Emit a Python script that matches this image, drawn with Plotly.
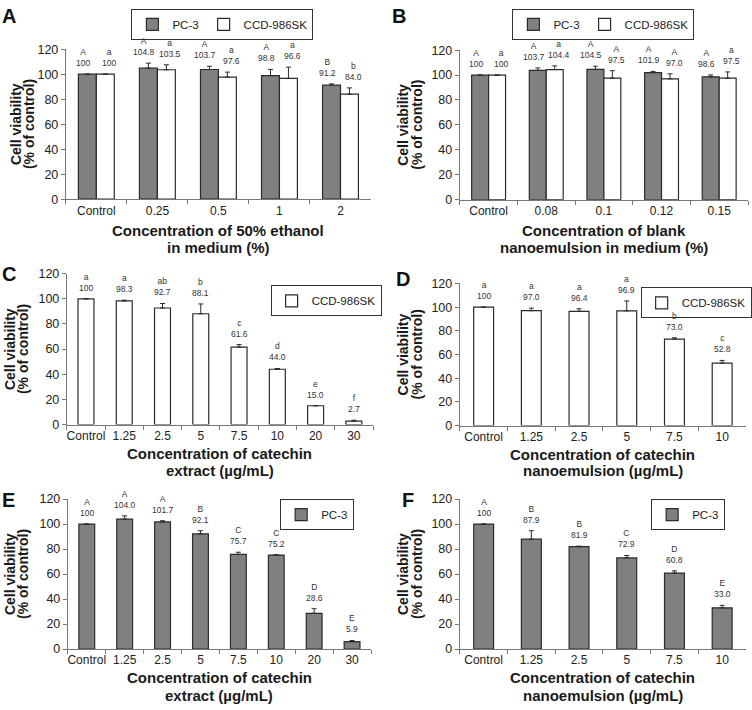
import plotly.graph_objects as go

# ---------------- data ----------------
A_cats = ["Control", "0.25", "0.5", "1", "2"]
A_pc3 = [100, 104.8, 103.7, 98.8, 91.2]
A_pc3_err = [0, 4, 2.6, 5, 1]
A_pc3_sig = ["A", "A", "A", "A", "B"]
A_ccd = [100, 103.5, 97.6, 96.6, 84.0]
A_ccd_err = [0, 4, 4, 9, 5]
A_ccd_sig = ["a", "a", "a", "a", "b"]

B_cats = ["Control", "0.08", "0.1", "0.12", "0.15"]
B_pc3 = [100, 103.7, 104.5, 101.9, 98.6]
B_pc3_err = [0, 2, 2.6, 1, 1.5]
B_pc3_sig = ["A", "A", "A", "A", "A"]
B_ccd = [100, 104.4, 97.5, 97.0, 97.5]
B_ccd_err = [0, 3, 6, 4, 5]
B_ccd_sig = ["a", "a", "A", "A", "a"]

C_cats = ["Control", "1.25", "2.5", "5", "7.5", "10", "20", "30"]
C_ccd = [100, 98.3, 92.7, 88.1, 61.6, 44.0, 15.0, 2.7]
C_ccd_err = [0, 0.6, 3.6, 7.8, 2, 0.6, 0, 0.8]
C_ccd_sig = ["a", "a", "ab", "b", "c", "d", "e", "f"]

D_cats = ["Control", "1.25", "2.5", "5", "7.5", "10"]
D_ccd = [100, 97.0, 96.4, 96.9, 73.0, 52.8]
D_ccd_err = [0, 2.2, 2.2, 8.3, 1.1, 2.2]
D_ccd_sig = ["a", "a", "a", "a", "b", "c"]

E_cats = ["Control", "1.25", "2.5", "5", "7.5", "10", "20", "30"]
E_pc3 = [100, 104.0, 101.7, 92.1, 75.7, 75.2, 28.6, 5.9]
E_pc3_err = [0, 2.6, 1, 2.6, 1.8, 0.3, 3.7, 1]
E_pc3_sig = ["A", "A", "A", "B", "C", "C", "D", "E"]

F_cats = ["Control", "1.25", "2.5", "5", "7.5", "10"]
F_pc3 = [100, 87.9, 81.9, 72.9, 60.8, 33.0]
F_pc3_err = [0, 6.8, 0.5, 2, 1.8, 2]
F_pc3_sig = ["A", "B", "B", "C", "D", "E"]

y_ticks = [0, 20, 40, 60, 80, 100, 120]

# ---------------- styling ----------------
W, H = 752, 710
FONT = "Liberation Sans, Arial, Helvetica, sans-serif"
GRAY = "#808080"
EDGE = "#2b2b2b"
AXC = "#777777"


def fx(px):
    return px / W


def fy(px):
    return 1 - px / H


def fmt(v):
    return "100" if v == 100 else f"{v:.1f}"


# panel boxes in pixels: x0, x1, ytop(120), ybottom(0)
panels = {
    "A": dict(box=(66, 372, 43, 196), xt=("Concentration of 50% ethanol", "in medium (%)"), ty=(228, 245),
              lab=(9, 9), yt=(-50, -37)),
    "B": dict(box=(461, 750, 44, 196.5), xt=("Concentration of blank", "nanoemulsion in medium (%)"), ty=(228, 245),
              lab=(400, 9), yt=(-57, -43)),
    "C": dict(box=(67, 374, 272, 426), xt=("Concentration of catechin", "extract (µg/mL)"), ty=(455, 473),
              lab=(9, 272), yt=(-57, -44)),
    "D": dict(box=(461, 748, 282, 427), xt=("Concentration of catechin", "nanoemulsion (µg/mL)"), ty=(456, 473),
              lab=(404, 277), yt=(-57, -43)),
    "E": dict(box=(68, 372, 502, 655), xt=("Concentration of catechin", "extract (µg/mL)"), ty=(684, 702),
              lab=(9, 503), yt=(-58, -45)),
    "F": dict(box=(461, 748, 502, 655), xt=("Concentration of catechin", "nanoemulsion (µg/mL)"), ty=(684, 702),
              lab=(409, 503), yt=(-57, -43)),
}

fig = go.Figure()
annotations = []
layout_axes = {}

PAIR_W = 0.294
SINGLE_W = 0.417


def add_series(idx, cats, vals, errs, sigs, name, color, width, offset, legend, lab_shift):
    ax = "" if idx == 1 else str(idx)
    fig.add_trace(go.Bar(
        x=cats, y=vals, name=name,
        width=width, offset=offset,
        marker=dict(color=color, line=dict(color=EDGE, width=1.2)),
        error_y=dict(type="data", array=errs, arrayminus=[0] * len(errs), symmetric=False,
                     color=EDGE, thickness=1, width=2.5),
        xaxis="x" + ax, yaxis="y" + ax,
        legend=legend, showlegend=True,
        hoverinfo="skip",
    ))
    for i, (v, e, s) in enumerate(zip(vals, errs, sigs)):
        annotations.append(dict(
            x=i + offset + width / 2, y=v + e, xref="x" + ax, yref="y" + ax,
            text=f"{s}<br>{fmt(v)}", showarrow=False, yanchor="bottom", yshift=4, xshift=lab_shift,
            font=dict(family=FONT, size=8.5, color="#333333"),
        ))


series = [
    (1, A_cats, [(A_pc3, A_pc3_err, A_pc3_sig, "PC-3", GRAY), (A_ccd, A_ccd_err, A_ccd_sig, "CCD-986SK", "white")]),
    (2, B_cats, [(B_pc3, B_pc3_err, B_pc3_sig, "PC-3", GRAY), (B_ccd, B_ccd_err, B_ccd_sig, "CCD-986SK", "white")]),
    (3, C_cats, [(C_ccd, C_ccd_err, C_ccd_sig, "CCD-986SK", "white")]),
    (4, D_cats, [(D_ccd, D_ccd_err, D_ccd_sig, "CCD-986SK", "white")]),
    (5, E_cats, [(E_pc3, E_pc3_err, E_pc3_sig, "PC-3", GRAY)]),
    (6, F_cats, [(F_pc3, F_pc3_err, F_pc3_sig, "PC-3", GRAY)]),
]

legend_names = ["legend", "legend2", "legend3", "legend4", "legend5", "legend6"]

for idx, cats, sers in series:
    leg = legend_names[idx - 1]
    if len(sers) == 2:
        for k, (v, e, s, n, c) in enumerate(sers):
            add_series(idx, cats, v, e, s, n, c, PAIR_W, -PAIR_W if k == 0 else 0.0, leg,
                       -4 if k == 0 else 4)
    else:
        v, e, s, n, c = sers[0]
        add_series(idx, cats, v, e, s, n, c, SINGLE_W, -SINGLE_W / 2, leg, 0)

for idx, key in enumerate(["A", "B", "C", "D", "E", "F"], start=1):
    p = panels[key]
    x0, x1, yt, yb = p["box"]
    ax = "" if idx == 1 else str(idx)
    layout_axes["xaxis" + ax] = dict(
        domain=[fx(x0), fx(x1)], anchor="y" + ax, type="category",
        showline=True, linecolor=AXC, linewidth=1, ticks="outside", tickson="boundaries",
        ticklen=4, tickcolor=AXC, showgrid=False, zeroline=False, fixedrange=True, tickangle=0,
        tickfont=dict(family=FONT, size=12, color="#222222"),
    )
    layout_axes["yaxis" + ax] = dict(
        domain=[fy(yb), fy(yt)], anchor="x" + ax, range=[0, 120], tickvals=y_ticks,
        showline=True, linecolor=AXC, linewidth=1, ticks="outside", ticklen=4, tickcolor=AXC,
        showgrid=False, zeroline=False, fixedrange=True,
        tickfont=dict(family=FONT, size=12.5, color="#222222"),
    )
    xc = (x0 + x1) / 2
    for line, ypx in zip(p["xt"], p["ty"]):
        annotations.append(dict(x=fx(xc), y=fy(ypx), xref="paper", yref="paper", text=f"<b>{line}</b>",
                                showarrow=False, xanchor="center", yanchor="middle",
                                font=dict(family=FONT, size=15, color="#1a1a1a")))
    # y axis title (two rotated lines)
    ymid = (yt + yb) / 2
    for line, dx in zip(("Cell viability", "(% of control)"), p["yt"]):
        annotations.append(dict(x=fx(x0 + dx), y=fy(ymid), xref="paper", yref="paper", text=f"<b>{line}</b>",
                                showarrow=False, textangle=-90, xanchor="center", yanchor="middle",
                                font=dict(family=FONT, size=14, color="#1a1a1a")))
    lx, ly = p["lab"]
    annotations.append(dict(x=fx(lx), y=fy(ly), xref="paper", yref="paper", text=f"<b>{key}</b>",
                            showarrow=False, xanchor="center", yanchor="middle",
                            font=dict(family=FONT, size=20, color="#111111")))

leg_common = dict(orientation="h", xanchor="center", yanchor="top", bgcolor="white",
                  bordercolor="#333333", borderwidth=1, itemwidth=30, tracegroupgap=0,
                  font=dict(family=FONT, size=11.5, color="#222222"), itemclick=False, itemdoubleclick=False)
legend_pos = {"legend": (223, 2), "legend2": (605, 2), "legend3": (327, 284),
              "legend4": (698, 286), "legend5": (318, 502), "legend6": (690, 502)}
legends = {k: dict(leg_common, x=fx(px), y=fy(py)) for k, (px, py) in legend_pos.items()}

fig.update_layout(
    width=W, height=H, margin=dict(l=0, r=0, t=0, b=0),
    paper_bgcolor="white", plot_bgcolor="white",
    barmode="overlay",
    annotations=annotations,
    font=dict(family=FONT),
    **layout_axes, **legends,
)

fig.write_html("out.html", config={"displayModeBar": False},
               post_script="document.body.style.margin='0';document.body.style.overflow='hidden';")
